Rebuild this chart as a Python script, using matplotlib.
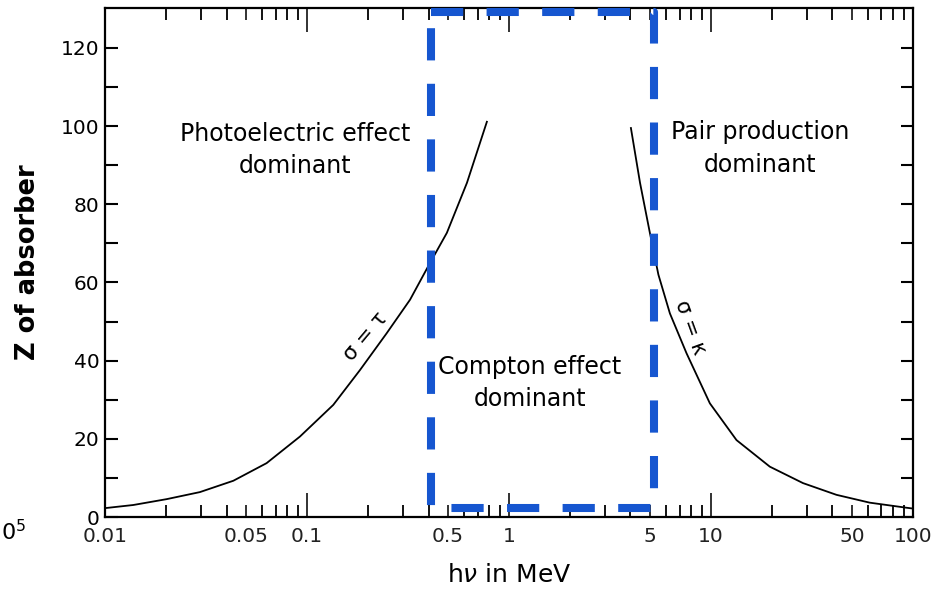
# Z of absorber vs photon energy: regions where each interaction dominates

import numpy as np
import matplotlib.pyplot as plt
from matplotlib.ticker import FixedLocator, NullFormatter

# sigma = tau boundary (photoelectric / Compton)
photo_e = [0.01, 0.0138, 0.0202, 0.0295, 0.0432, 0.0631, 0.0923, 0.135, 0.183,
           0.248, 0.324, 0.397, 0.493, 0.62, 0.778]
photo_z = [2.3, 3.1, 4.6, 6.4, 9.3, 13.8, 20.6, 28.7, 37.6,
           47.0, 55.6, 64.0, 72.7, 85.5, 101.1]

# sigma = kappa boundary (Compton / pair production)
pair_e = [4.02, 4.46, 4.99, 5.5, 6.27, 7.58, 9.89, 13.4, 19.6, 28.6, 41.9, 61.2, 93.1, 100.0]
pair_z = [99.5, 85.5, 72.7, 62.0, 52.1, 41.9, 29.1, 19.7, 12.9, 8.7, 5.7, 3.7, 2.4, 2.2]

# highlighted Compton box
box_e = [0.411, 5.22]
box_z = [2.4, 129.2]

xtick_vals = [0.01, 0.05, 0.1, 0.5, 1, 5, 10, 50, 100]
xtick_labels = ["0.01", "0.05", "0.1", "0.5", "1", "5", "10", "50", "100"]

plt.rcParams['font.family'] = ['DejaVu Sans']

fig = plt.figure(figsize=(9.41, 5.91), dpi=100)
ax = fig.add_axes([0.1116, 0.125, 0.970 - 0.1116, 0.9865 - 0.125])

ax.plot(photo_e, photo_z, color="black", lw=1.3)
ax.plot(pair_e, pair_z, color="black", lw=1.3)

bx = [box_e[0], box_e[1], box_e[1], box_e[0], box_e[0]]
by = [box_z[1], box_z[1], box_z[0], box_z[0], box_z[1]]
ax.plot(bx, by, color="#1656d0", lw=5.8, dashes=(4, 2.9), solid_capstyle="butt",
        dash_capstyle="butt", zorder=5, clip_on=False)

ax.set_xscale("log")
ax.set_xlim(0.01, 100)
ax.set_ylim(0, 130.2)

# ticks
minor_x = [m * 10.0 ** d for d in range(-2, 2) for m in range(2, 10)]
ax.xaxis.set_major_locator(FixedLocator(xtick_vals))
ax.set_xticklabels(xtick_labels)
ax.xaxis.set_minor_locator(FixedLocator(minor_x))
ax.xaxis.set_minor_formatter(NullFormatter())
ax.set_yticks([0, 20, 40, 60, 80, 100, 120])
ax.set_yticks(np.arange(10, 130, 20), minor=True)

ax.tick_params(axis="x", which="major", direction="in", length=9, width=1.3,
               top=True, labelsize=14.5, pad=7, colors="#222222")
ax.tick_params(axis="x", which="minor", direction="in", length=8.5, width=1.3, top=True)
ax.tick_params(axis="y", which="both", direction="in", length=9, width=1.5,
               right=True, labelsize=14.5, pad=4)
# decades get longer ticks
for t in ax.xaxis.get_major_ticks():
    if t.get_loc() in (0.05, 0.5, 5, 50):
        t.tick1line.set_markersize(8.5)
        t.tick2line.set_markersize(8.5)
    else:
        t.tick1line.set_markersize(17)
        t.tick2line.set_markersize(17)

for s in ax.spines.values():
    s.set_linewidth(1.6)

ax.set_xlabel(r"h$\nu$ in MeV", fontsize=18, labelpad=12)
ax.set_ylabel("Z of absorber", fontsize=18.5, fontweight="bold", labelpad=14)

ax.text(0.0873, 93.9, "Photoelectric effect\ndominant", ha="center", va="center",
        fontsize=17, linespacing=1.45)
ax.text(17.5, 94.2, "Pair production\ndominant", ha="center", va="center",
        fontsize=17, linespacing=1.45)
ax.text(1.27, 34.3, "Compton effect\ndominant", ha="center", va="center",
        fontsize=17, linespacing=1.45)
ax.text(0.194, 46.1, "σ = τ", ha="center", va="center", fontsize=15, rotation=50)
ax.text(7.87, 48.4, "σ = κ", ha="center", va="center", fontsize=15, rotation=-70)

fig.text(0.001, 0.1, r"0$^5$", fontsize=16, ha="left", va="center")

plt.savefig("out.png", dpi=100)
